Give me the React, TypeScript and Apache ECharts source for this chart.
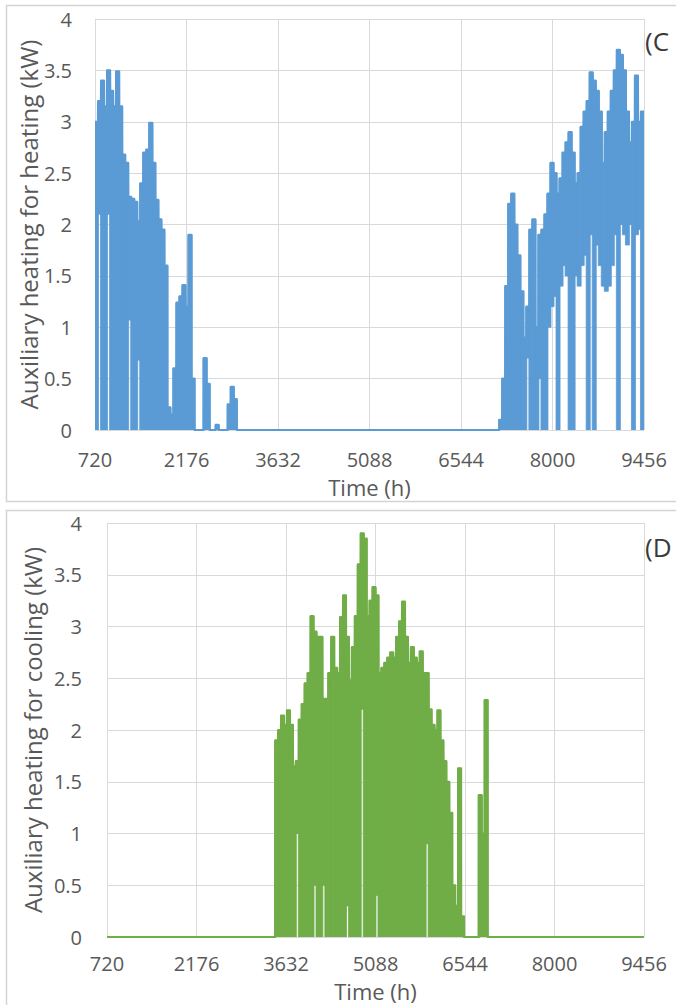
import React, { useEffect, useRef } from "react";
import * as echarts from "echarts";

// ---- axis definitions ----
const HOUR0 = 720;
const HOUR_END = 9456;
const X_TICK_STEP = 1456;
const xTickLabels = ["720", "2176", "3632", "5088", "6544", "8000", "9456"];
const Y_MAX = 4;
const Y_STEP = 0.5;

// ---- data: per 48-hour block, the highest (hi) and lowest (lo) hourly value ----
const BLOCK_HOURS = 48;

// (C) auxiliary heating for heating, early part of the year
const heatingEarlyStart = 720;
const heatingEarlyHi = [
  3.0, 3.2, 3.4, 3.15, 3.5, 3.3, 3.15, 3.49, 3.15, 2.68,
  2.6, 2.27, 2.25, 2.22, 2.03, 2.4, 2.7, 2.73, 2.99, 2.6,
  2.24, 2.05, 1.95, 1.6, 0.22, 0.15, 0.6, 1.24, 1.3, 1.41,
  1.2, 1.9, 0.5, 0, 0, 0, 0.7, 0.45, 0, 0,
  0.05, 0, 0, 0, 0.25, 0.42, 0.3, 0,
];
const heatingEarlyLo = [
  0, 2.1, 0, 0, 2.1, 0, 0, 0, 0, 0,
  0, 1.07, 0, 0, 0.68, 0, 0, 0, 0, 0,
  0, 0, 0, 0, 0, 0, 0, 0, 0, 0,
  0, 0, 0, 0, 0, 0, 0, 0, 0, 0,
  0, 0, 0, 0, 0, 0, 0, 0,
];

// (C) auxiliary heating for heating, end of the year
const heatingLateStart = 7152;
const heatingLateHi = [
  0.1, 0.5, 1.4, 2.2, 2.3, 2.0, 1.7, 1.35, 0.9, 1.2,
  1.95, 2.05, 1.0, 1.9, 1.95, 2.1, 2.3, 2.6, 2.5, 2.3,
  2.45, 2.7, 2.8, 2.9, 2.7, 2.4, 2.5, 2.95, 3.1, 3.2,
  3.48, 3.4, 3.3, 3.1, 2.6, 2.9, 3.1, 3.3, 3.5, 3.7,
  3.65, 3.5, 3.1, 2.8, 3.0, 3.45, 3.0, 3.1,
];
const heatingLateLo = [
  0, 0, 0, 0, 0, 0, 0, 0, 0, 0.7,
  0, 0, 0, 0.5, 0, 0, 1.0, 1.2, 1.3, 0,
  1.4, 1.6, 1.5, 0, 0, 1.5, 1.4, 1.6, 1.7, 0,
  1.9, 0, 1.8, 1.6, 1.4, 1.35, 1.4, 1.6, 1.9, 0,
  2.0, 1.9, 1.8, 2.0, 0, 1.9, 1.95, 0,
];

// (D) auxiliary heating for cooling
const coolingStart = 3456;
const coolingHi = [
  1.9, 2.0, 2.14, 2.05, 2.19, 2.05, 1.65, 1.7, 2.1, 2.25,
  2.45, 2.55, 3.1, 2.95, 2.9, 2.9, 2.3, 2.3, 2.55, 2.9,
  2.6, 2.55, 3.09, 3.3, 2.9, 2.48, 2.8, 3.1, 3.6, 3.9,
  3.85, 3.1, 3.25, 3.38, 3.3, 2.55, 2.6, 2.65, 2.7, 2.75,
  2.7, 2.9, 3.05, 3.24, 2.9, 2.65, 2.8, 2.7, 2.65, 2.76,
  2.55, 2.55, 2.2, 2.05, 2.0, 2.19, 1.9, 1.7, 1.5, 1.2,
  0.5, 0.3, 1.63, 0.2, 0, 0, 0, 0, 0, 1.37,
  1.0, 2.29, 0,
];
const coolingLo = [
  0, 0, 0, 0, 0, 0, 0, 1.0, 0, 0,
  0, 0, 0, 0.5, 0, 0, 0.5, 0, 0, 0,
  0, 0, 0, 0, 0.3, 0, 0, 0, 0, 2.2,
  0, 0, 0, 0, 0.4, 0, 0, 0, 0, 0,
  0, 0, 0, 0, 0, 0, 0, 0, 0, 0,
  0, 0.9, 0, 0, 0, 0, 0, 0, 0, 0,
  0, 0, 0, 0, 0, 0, 0, 0, 0, 0,
  0, 0, 0,
];

type Segment = { start: number; hi: number[]; lo: number[] };

// blocks: [startOffset, endOffset, lo, hi] (hours from 720); outline: stepped upper envelope
function buildBlocks(segments: Segment[]) {
  const blocks: number[][] = [];
  const outline: number[][] = [];
  for (let t = HOUR0; t < HOUR_END; t += BLOCK_HOURS) {
    let hi = 0;
    let lo = 0;
    for (const s of segments) {
      const k = (t - s.start) / BLOCK_HOURS;
      if (k >= 0 && k < s.hi.length) {
        hi = s.hi[k];
        lo = s.lo[k];
      }
    }
    const x0 = t - HOUR0;
    if (hi > 0) blocks.push([x0, x0 + BLOCK_HOURS, lo, hi]);
    outline.push([x0 + 1, hi]);
    outline.push([x0 + BLOCK_HOURS - 1, hi]);
  }
  return { blocks, outline };
}

const FONT = "'Open Sans', 'Noto Sans', sans-serif";
const TEXT = "#595959";
const GRID = "#D9D9D9";

function xAxis(gridIndex: number, nameGap: number, labelMargin: number) {
  return {
    gridIndex,
    type: "value",
    min: 0,
    max: HOUR_END - HOUR0,
    interval: X_TICK_STEP,
    axisLine: { show: false },
    axisTick: { show: false },
    splitLine: { show: true, lineStyle: { color: GRID, width: 1 } },
    axisLabel: {
      color: TEXT,
      fontSize: 20,
      fontFamily: FONT,
      margin: labelMargin,
      formatter: (v: number) => xTickLabels[Math.round(v / X_TICK_STEP)] ?? "",
    },
    name: "Time (h)",
    nameLocation: "middle",
    nameGap,
    nameMoveOverlap: false,
    nameTextStyle: { color: TEXT, fontSize: 22, fontFamily: FONT },
  };
}

function yAxis(gridIndex: number, name: string, nameGap: number, labelMargin: number) {
  return {
    gridIndex,
    type: "value",
    min: 0,
    max: Y_MAX,
    interval: Y_STEP,
    axisLine: { show: false },
    axisTick: { show: false },
    splitLine: { show: true, lineStyle: { color: GRID, width: 1 } },
    axisLabel: { color: TEXT, fontSize: 20, fontFamily: FONT, margin: labelMargin },
    name,
    nameLocation: "middle",
    nameGap,
    nameRotate: 90,
    nameMoveOverlap: false,
    nameTextStyle: { color: TEXT, fontSize: 24, fontFamily: FONT },
  };
}

function dataSeries(axisIndex: number, color: string, data: { blocks: number[][]; outline: number[][] }) {
  return [
    {
      type: "custom",
      xAxisIndex: axisIndex,
      yAxisIndex: axisIndex,
      data: data.blocks,
      dimensions: ["x0", "x1", "lo", "hi"],
      encode: { x: [0, 1], y: [2, 3] },
      silent: true,
      clip: true,
      renderItem: (_params: any, api: any) => {
        const pTop = api.coord([api.value(0), api.value(3)]);
        const pBot = api.coord([api.value(1), api.value(2)]);
        return {
          type: "rect",
          shape: {
            x: pTop[0] - 0.5,
            y: pTop[1],
            width: pBot[0] - pTop[0] + 1,
            height: pBot[1] - pTop[1],
          },
          style: { fill: color, stroke: color, lineWidth: 0.8 },
        };
      },
    },
    {
      type: "line",
      xAxisIndex: axisIndex,
      yAxisIndex: axisIndex,
      data: data.outline,
      symbol: "none",
      showSymbol: false,
      silent: true,
      lineStyle: { color, width: 2.2, join: "round" },
      itemStyle: { color },
    },
  ];
}

export default function App() {
  const ref = useRef<HTMLDivElement>(null);

  useEffect(() => {
    if (!ref.current) return;
    const chart = echarts.init(ref.current, undefined, { renderer: "svg" });
    const heating = buildBlocks([
      { start: heatingEarlyStart, hi: heatingEarlyHi, lo: heatingEarlyLo },
      { start: heatingLateStart, hi: heatingLateHi, lo: heatingLateLo },
    ]);
    const cooling = buildBlocks([{ start: coolingStart, hi: coolingHi, lo: coolingLo }]);

    chart.setOption({
      animation: false,
      backgroundColor: "#ffffff",
      grid: [
        { left: 95, top: 19, width: 549, height: 411 },
        { left: 107, top: 523, width: 537, height: 414 },
      ],
      xAxis: [xAxis(0, 46, 19), xAxis(1, 43, 16)],
      yAxis: [
        yAxis(0, "Auxiliary heating for heating (kW)", 55, 23),
        yAxis(1, "Auxiliary heating for cooling (kW)", 63, 25),
      ],
      graphic: [
        {
          type: "rect",
          silent: true,
          z: -10,
          shape: { x: 6.5, y: 5.5, width: 720, height: 496 },
          style: { fill: "none", stroke: "#D4D4D4", lineWidth: 1.5 },
        },
        {
          type: "rect",
          silent: true,
          z: -10,
          shape: { x: 6.5, y: 510.5, width: 720, height: 530 },
          style: { fill: "none", stroke: "#D4D4D4", lineWidth: 1.5 },
        },
        {
          type: "text",
          x: 645,
          y: 41,
          style: {
            text: "(C",
            fontSize: 26,
            fontFamily: FONT,
            fill: "#3a3a3a",
            verticalAlign: "middle",
          },
        },
        {
          type: "text",
          x: 645,
          y: 547,
          style: {
            text: "(D",
            fontSize: 26,
            fontFamily: FONT,
            fill: "#3a3a3a",
            verticalAlign: "middle",
          },
        },
      ],
      series: [
        ...dataSeries(0, "#5B9BD5", heating),
        ...dataSeries(1, "#70AD47", cooling),
      ],
    });
    return () => chart.dispose();
  }, []);

  return (
    <div
      ref={ref}
      style={{ position: "absolute", left: 0, top: 0, width: 676, height: 1005 }}
    />
  );
}
